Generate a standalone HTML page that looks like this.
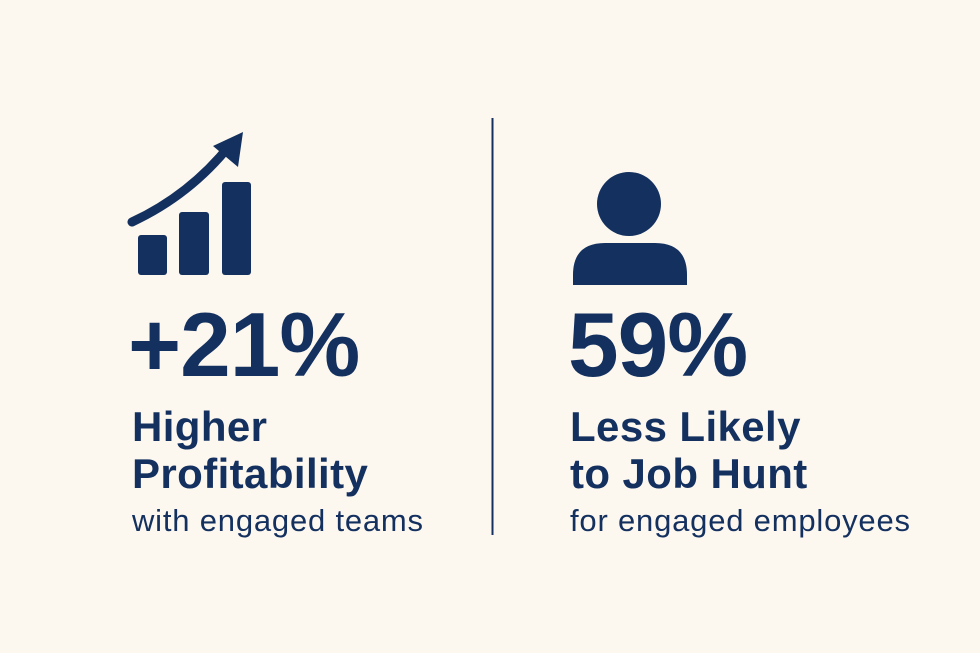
<!DOCTYPE html>
<html><head><meta charset="utf-8"><style>
html,body{margin:0;padding:0}
body{width:980px;height:653px;background:#fcf8f0;position:relative;overflow:hidden;font-family:"Liberation Sans",sans-serif;color:#13305f}
.t{position:absolute;white-space:nowrap;margin:0}
.big{font-size:91px;font-weight:bold;line-height:1;letter-spacing:-1px}
.h{font-size:42px;font-weight:bold;line-height:1;letter-spacing:0.4px}
.s{font-size:31px;line-height:1;letter-spacing:0.8px}
</style></head><body>
<svg width="980" height="653" style="position:absolute;left:0;top:0">
  <g fill="#13305f">
    <rect x="138" y="235" width="29" height="40" rx="3"/>
    <rect x="179" y="212" width="30" height="63" rx="3"/>
    <rect x="222" y="182" width="29" height="93" rx="3"/>
    <path d="M132 222 Q190 195 230 145" stroke="#13305f" stroke-width="9" fill="none" stroke-linecap="round"/>
    <polygon points="243,132 238,167 213,146"/>
  </g>
  <line x1="492.5" y1="118" x2="492.5" y2="535" stroke="#13305f" stroke-width="2"/>
  <g fill="#13305f">
    <circle cx="629" cy="204" r="32"/>
    <path d="M573 285 L573 275 Q573 243 605 243 L655 243 Q687 243 687 275 L687 285 Z"/>
  </g>
</svg>
<div class="t big" style="left:128px;top:300px">+21%</div>
<div class="t h" style="left:132px;top:406px">Higher</div>
<div class="t h" style="left:132px;top:453px">Profitability</div>
<div class="t s" style="left:132px;top:505px">with engaged teams</div>
<div class="t big" style="left:568px;top:300px">59%</div>
<div class="t h" style="left:570px;top:406px">Less Likely</div>
<div class="t h" style="left:570px;top:453px">to Job Hunt</div>
<div class="t s" style="left:570px;top:505px">for engaged employees</div>
</body></html>
